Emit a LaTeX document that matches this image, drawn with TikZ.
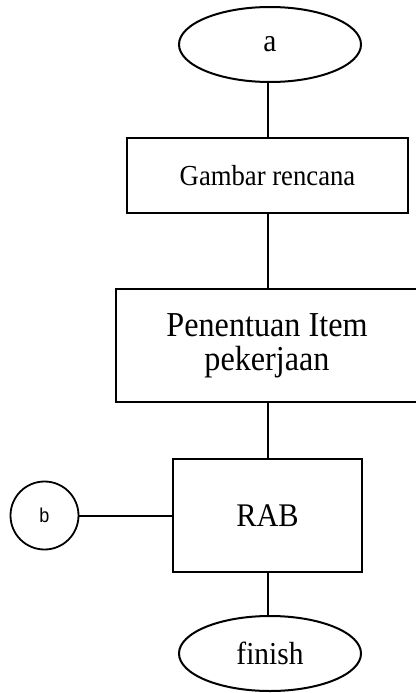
\documentclass[tikz,border=0pt]{standalone}
\usepackage{fontspec}
\setmainfont{Liberation Serif}[FakeStretch=0.92]
\setsansfont{Liberation Sans}[FakeStretch=0.9]
\usetikzlibrary{positioning,shapes.geometric}

\tikzset{
  flowline/.style={line width=2pt},
  terminal/.style={ellipse, draw, line width=2pt, minimum width=182pt,
    minimum height=75pt, inner sep=0pt, font=\fontsize{32}{34}\selectfont},
  process/.style={rectangle, draw, line width=2pt, inner sep=0pt, align=center},
  connector/.style={circle, draw, line width=1.8pt, minimum size=68pt,
    inner sep=0pt, font=\sffamily\fontsize{20}{22}\selectfont}
}

\begin{document}
\begin{tikzpicture}[x=1pt,y=-1pt]
  \useasboundingbox (0,0) rectangle (415,693);
  \node[terminal] (a) at (270,44.5) {a};
  \node[process, minimum width=281pt, minimum height=75pt,
    font=\fontsize{29}{31}\selectfont] (gambar) at (267.5,175.5) {Gambar rencana};
  \node[process, minimum width=302pt, minimum height=113pt,
    font=\fontsize{35}{34}\selectfont] (item) at (267,345.5) {Penentuan Item\\pekerjaan};
  \node[process, minimum width=189pt, minimum height=113pt,
    font=\fontsize{33}{35}\selectfont] (rab) at (267.5,515.5) {RAB};
  \node[connector] (b) at (44.5,515.5) {b};
  \node[terminal] (finish) at (270,653.5) {finish};
  % connectors
  \draw[flowline] (gambar.north) -- (gambar.north |- a.south);
  \draw[flowline] (gambar.south) -- (gambar.south |- item.north);
  \draw[flowline] (rab.north) -- (rab.north |- item.south);
  \draw[flowline] (rab.south) -- (rab.south |- finish.north);
  \draw[flowline] (b) -- (rab);
\end{tikzpicture}
\end{document}
